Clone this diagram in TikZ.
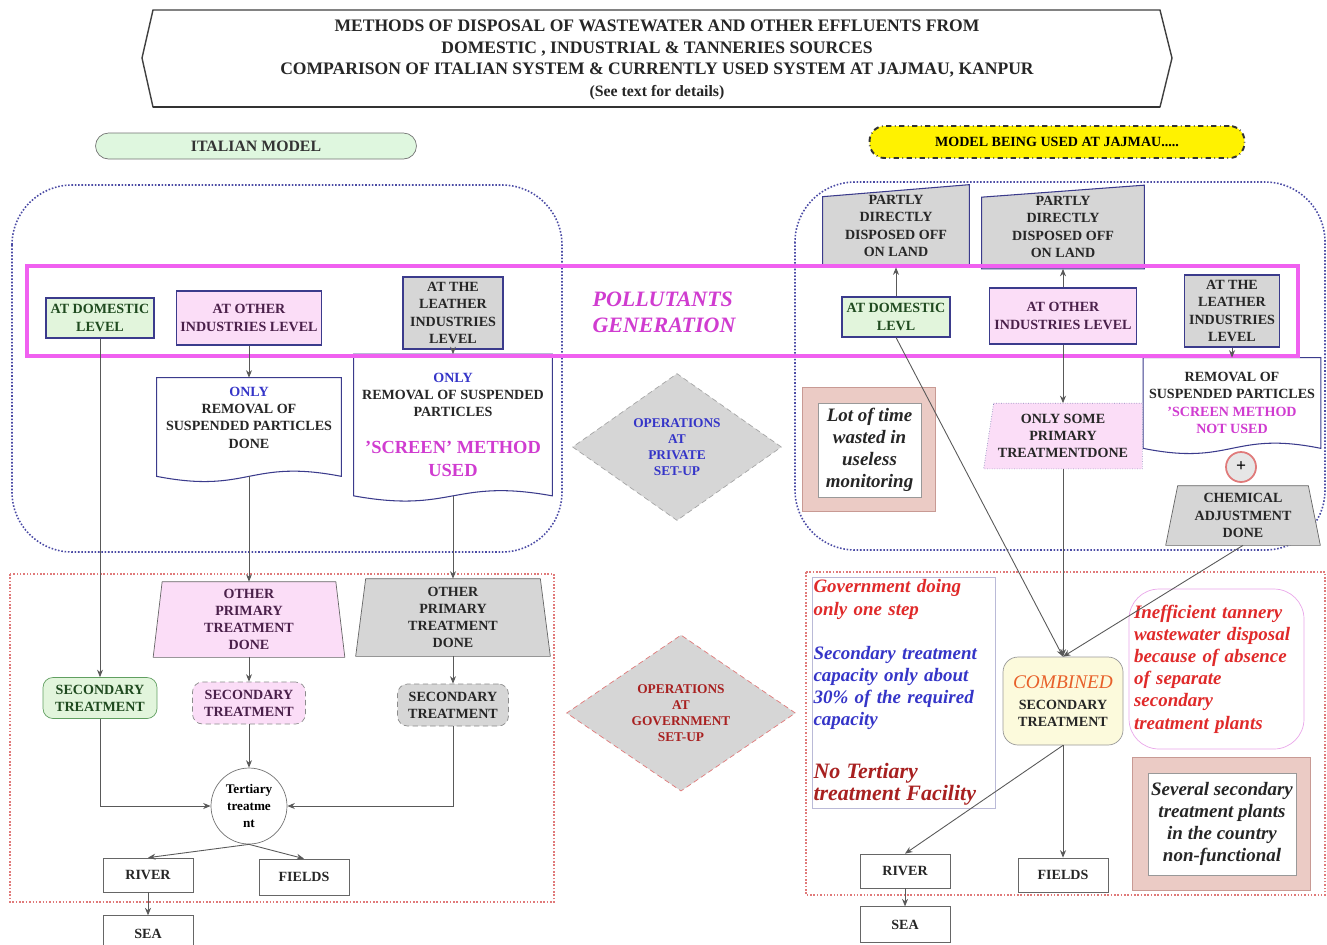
\documentclass[tikz,border=0pt]{standalone}
\usepackage{fontspec}
\setmainfont{Liberation Serif}
\usetikzlibrary{arrows.meta,positioning,calc,shapes.geometric,backgrounds}
\definecolor{navyln}{HTML}{3B3B8C}
\definecolor{greenbg}{HTML}{E2F5DC}
\definecolor{pinkbg}{HTML}{FBDDF7}
\definecolor{graybg}{HTML}{D6D6D6}
\definecolor{bandmag}{HTML}{F060F0}
\definecolor{regblue}{HTML}{4B4BA5}
\definecolor{regred}{HTML}{E07A7A}
\definecolor{txtblue}{HTML}{3535C8}
\definecolor{txtmag}{HTML}{D03CD0}
\definecolor{txtred}{HTML}{E02A2A}
\definecolor{txtdred}{HTML}{A82020}
\definecolor{txtgreen}{HTML}{1F4A1F}
\definecolor{txtpurp}{HTML}{4A204A}
\definecolor{combbg}{HTML}{FCFADC}
\definecolor{hatchbg}{HTML}{EBCBC5}
\definecolor{hatchln}{HTML}{C89A94}
\definecolor{pillgreen}{HTML}{DFF7DF}
\definecolor{orangetxt}{HTML}{E8602A}
\newcommand{\nodefont}{\fontsize{8}{9.8}\selectfont\bfseries}
\newcommand{\remfont}{\fontsize{10.8}{12.6}\selectfont\bfseries\itshape}
\newcommand{\docshape}[2]{\draw[#1] (#2.north west) -- (#2.north east) -- (#2.south east)
  .. controls ($(#2.south)+(0,-18)$) and ($(#2.south)+(0,18)$) .. (#2.south west) -- cycle;}
\newcommand{\trapshape}[3]{\draw[#1] ($(#2.north west)+(#3,0)$) -- ($(#2.north east)+(-#3,0)$) -- (#2.south east) -- (#2.south west) -- cycle;}
\newcommand{\slantshape}[2]{\draw[#1] ($(#2.north west)+(0,12)$) -- (#2.north east) -- (#2.south east) -- (#2.south west) -- cycle;}
\tikzset{
  lvlbox/.style={draw=navyln, line width=0.6pt, rectangle, align=center, font=\nodefont, text=black!85, inner sep=1pt},
  secbox/.style={draw=black!45, densely dashed, rectangle, rounded corners=2mm, align=center, font=\nodefont, text=black!85, inner sep=1pt},
  endbox/.style={draw=black!60, rectangle, align=center, font=\nodefont, text=black!85, inner sep=1pt, minimum width=18mm},
  txtnode/.style={align=center, font=\nodefont, text=black!85, inner sep=1pt},
  opdiam/.style={diamond, draw=black!35, densely dashed, fill=graybg, align=center, font=\fontsize{7.6}{9.2}\selectfont\bfseries, inner sep=0pt},
  remark/.style={align=center, font=\remfont, text=black!85, inner sep=1pt},
  hatchbox/.style={draw=hatchln, fill=hatchbg},
  region/.style={draw=regblue, densely dotted, line width=0.9pt, rounded corners=12mm},
  govregion/.style={draw=regred, densely dotted, line width=0.9pt},
  pill/.style={rectangle, rounded corners=2.6mm, align=center, inner sep=1pt},
  docline/.style={draw=navyln, line width=0.6pt, fill=white},
  arr/.style={-{Stealth[length=1.5mm, width=1.2mm]}, draw=black!65, line width=0.5pt},
}
\begin{document}
\begin{tikzpicture}[x=0.02cm, y=-0.02cm]
\path[use as bounding box] (0,0) rectangle (1327,944);
\clip (0,0) rectangle (1327,944);
\begin{scope}[on background layer]
\fill[white] (0,0) rectangle (1327,944);
\draw[region] (12,185) rectangle (562,552);
\draw[region] (795,182) rectangle (1325,550);
\draw[govregion] (10,574) rectangle (554,902);
\draw[govregion] (806,572) rectangle (1325,895);
\end{scope}

\draw[draw=black!75, line width=0.8pt, fill=white] (153,10) -- (1160,10) -- (1172,58) -- (1160,107) -- (153,107) -- (142,58) -- cycle;
\draw[black!80, line width=1.6pt] (153,107) -- (1160,107);
\node[align=center, text=black!85, font=\fontsize{10}{12.2}\selectfont\bfseries] (title) at (657,60) {METHODS OF DISPOSAL OF WASTEWATER AND OTHER EFFLUENTS FROM\\DOMESTIC , INDUSTRIAL \& TANNERIES SOURCES\\COMPARISON OF ITALIAN SYSTEM \& CURRENTLY USED SYSTEM AT JAJMAU, KANPUR\\{\fontsize{9}{11}\selectfont (See text for details)}};

\node[pill, draw=black!55, fill=pillgreen, minimum width=64.2mm, minimum height=5.2mm, font=\fontsize{9}{11}\selectfont\bfseries, text=black!80] (itlhead) at (256,146) {ITALIAN MODEL};
\node[pill, draw=black!80, dash dot, line width=1.1pt, fill=yellow, minimum width=75mm, minimum height=6.4mm, rounded corners=3mm, font=\nodefont] (jajhead) at (1057,142) {MODEL BEING USED AT JAJMAU.....};

\draw[draw=bandmag, line width=2.2pt] (27,266) rectangle (1298,356);
\node[txtnode, text=txtmag, font=\fontsize{12.5}{14.6}\selectfont\bfseries\itshape, align=left] (polgen) at (664,312) {POLLUTANTS\\GENERATION};

\node[lvlbox, fill=greenbg, text=txtgreen, minimum width=21.6mm, minimum height=8mm] (ldom) at (100,318) {AT DOMESTIC\\LEVEL};
\node[lvlbox, fill=pinkbg, text=txtpurp, minimum width=29mm, minimum height=10.8mm] (loth) at (249,318) {AT OTHER\\INDUSTRIES LEVEL};
\node[lvlbox, fill=graybg, minimum width=20mm, minimum height=14.4mm, inner sep=0pt] (llea) at (453,313) {AT THE\\LEATHER\\INDUSTRIES\\LEVEL};
\node[txtnode, minimum width=36.8mm, minimum height=19.6mm] (lrem) at (249,427) {{\color{txtblue}ONLY}\\REMOVAL OF\\SUSPENDED PARTICLES\\DONE\\[1pt]\mbox{}};
\node[txtnode, minimum width=39.6mm, minimum height=28.2mm] (lscr) at (453,425) {{\color{txtblue}ONLY}\\REMOVAL OF SUSPENDED\\PARTICLES\\[11pt]{\color{txtmag}\fontsize{10.5}{12}\selectfont 'SCREEN' METHOD}\\[3.5pt]{\color{txtmag}\fontsize{10.5}{12}\selectfont USED}};
\node[txtnode, text=txtpurp, minimum width=38.2mm, minimum height=15mm] (ltrp) at (249,619.5) {OTHER\\PRIMARY\\TREATMENT\\DONE};
\node[txtnode, minimum width=38.8mm, minimum height=15.4mm] (ltrg) at (453,617.5) {OTHER\\PRIMARY\\TREATMENT\\DONE};
\node[secbox, solid, draw=green!25!gray, fill=greenbg, text=txtgreen, minimum width=22.8mm, minimum height=8.2mm] (lsecg) at (100,698) {SECONDARY\\TREATMENT};
\node[secbox, fill=pinkbg, text=txtpurp, minimum width=22.6mm, minimum height=8.4mm] (lsecp) at (249,703) {SECONDARY\\TREATMENT};
\node[secbox, fill=graybg, minimum width=22.2mm, minimum height=8.4mm] (lsecy) at (453,705) {SECONDARY\\TREATMENT};
\node[circle, draw=black!55, fill=white, minimum size=15.2mm, inner sep=0pt, align=center, font=\fontsize{7.5}{9.6}\selectfont\bfseries] (ter) at (249,806) {Tertiary\\treatme\\nt};
\node[endbox, minimum height=6.8mm] (lriv) at (148,875) {RIVER};
\node[endbox, minimum height=7.2mm] (lfld) at (304,877) {FIELDS};
\node[endbox, minimum height=7.2mm, below=4.6mm of lriv] (lsea) {SEA};

\node[opdiam, text=txtblue, minimum width=41.8mm, minimum height=29.4mm] (oppriv) at (677,447) {OPERATIONS\\AT\\PRIVATE\\SET-UP};
\node[opdiam, draw=regred, text=txtdred, minimum width=45.8mm, minimum height=31mm] (opgov) at (681,713) {OPERATIONS\\AT\\GOVERNMENT\\SET-UP};

\node[txtnode, minimum width=29.2mm, minimum height=16.4mm] (rpar1) at (896,226) {PARTLY\\DIRECTLY\\DISPOSED OFF\\ON LAND};
\node[txtnode, minimum width=32.4mm, minimum height=16.6mm] (rpar2) at (1063,227) {PARTLY\\DIRECTLY\\DISPOSED OFF\\ON LAND};
\node[lvlbox, fill=greenbg, text=txtgreen, minimum width=21.6mm, minimum height=8mm] (rdom) at (896,317) {AT DOMESTIC\\LEVL};
\node[lvlbox, fill=pinkbg, text=txtpurp, minimum width=29.4mm, minimum height=11.2mm] (roth) at (1063,316) {AT OTHER\\INDUSTRIES LEVEL};
\node[lvlbox, fill=graybg, minimum width=19mm, minimum height=14.4mm, inner sep=0pt] (rlea) at (1232,311) {AT THE\\LEATHER\\INDUSTRIES\\LEVEL};
\node[txtnode, minimum width=35.4mm, minimum height=18mm] (rscr) at (1232,403) {REMOVAL OF\\SUSPENDED PARTICLES\\{\color{txtmag}'SCREEN METHOD}\\{\color{txtmag}NOT USED}};
\node[circle, draw=regred, line width=1pt, fill=graybg!60, minimum size=6mm, inner sep=0pt, font=\bfseries] (rplus) at (1241,467) {+};
\node[txtnode, minimum width=30.8mm, minimum height=11.8mm] (rchem) at (1243,515.5) {CHEMICAL\\ADJUSTMENT\\DONE};
\node[txtnode, minimum width=31.6mm, minimum height=13mm] (rsome) at (1063,436) {ONLY SOME\\PRIMARY\\TREATMENTDONE};
\node[remark, draw=black!40, fill=white, minimum width=20.6mm, minimum height=18.8mm] (rtime) at (869.5,450) {Lot of time\\wasted in\\useless\\monitoring};
\node[draw=navyln!35, line width=0.5pt, align=left, font=\remfont, inner xsep=0.3mm, inner ysep=1pt, text width=36mm, minimum height=46.2mm] (rgov) at (903.5,692.5) {{\color{txtred}Government doing\\only one step}\\[12.6pt]{\color{txtblue}Secondary treatment\\capacity only about\\30\% of the required\\capacity}\\[16pt]{\color{txtdred}\fontsize{12.5}{14}\selectfont No Tertiary\\treatment Facility}};
\node[secbox, solid, draw=black!40, fill=combbg, rounded corners=3mm, minimum width=24mm, minimum height=17.6mm] (rcomb) at (1063,701) {{\color{orangetxt}\fontsize{11}{13}\selectfont\mdseries\itshape COMBINED}\\[2pt]SECONDARY\\TREATMENT};
\node[draw=txtmag!45, rounded corners=6mm, align=left, font=\remfont, text=txtred, text width=33mm, inner xsep=1mm, minimum height=32mm] (rineff) at (1216.5,669) {Inefficient tannery\\wastewater disposal\\because of absence\\of separate\\secondary\\treatment plants};
\node[remark, draw=black!40, fill=white, minimum width=29.6mm, minimum height=20.4mm] (rsev) at (1222,824) {Several secondary\\treatment plants\\in the country\\non-functional};
\node[endbox, minimum height=6.8mm] (rriv) at (905,871) {RIVER};
\node[endbox, minimum height=6.8mm] (rfld) at (1063,875) {FIELDS};
\node[endbox, minimum height=7.2mm, below=3.6mm of rriv] (rsea) {SEA};

\begin{scope}[on background layer]
\docshape{docline}{lrem}
\docshape{docline}{lscr}
\docshape{docline}{rscr}
\trapshape{draw=black!60, fill=pinkbg}{ltrp}{9}
\trapshape{draw=black!60, fill=graybg}{ltrg}{10}
\trapshape{draw=black!60, fill=graybg}{rchem}{12}
\slantshape{draw=navyln, line width=0.6pt, fill=graybg}{rpar1}
\slantshape{draw=navyln, line width=0.6pt, fill=graybg}{rpar2}
\draw[draw=navyln!60, densely dotted, fill=pinkbg] ($(rsome.north west)+(10,0)$) -- (rsome.north east) -- (rsome.south east) -- (rsome.south west) -- cycle;
\draw[hatchbox] ($(rtime.north west)+(-15,-15)$) rectangle ($(rtime.south east)+(14,14)$);
\draw[hatchbox] ($(rsev.north west)+(-15,-15)$) rectangle ($(rsev.south east)+(14,15)$);
\end{scope}

\draw[arr] (ldom) -- (lsecg);
\draw[arr] (lsecg) |- (ter);
\draw[arr] (loth) -- (lrem);
\draw[arr] (lrem) -- (ltrp);
\draw[arr] (ltrp) -- (lsecp);
\draw[arr] (lsecp) -- (ter);
\draw[arr] (llea) -- (lscr);
\draw[arr] (lscr) -- (ltrg);
\draw[arr] (ltrg) -- (lsecy);
\draw[arr] (lsecy) |- (ter);
\draw[arr] (ter.south) -- (lriv.north);
\draw[arr] (ter.south) -- (lfld.north);
\draw[arr] (lriv) -- (lsea);
\draw[arr] (rdom) -- (rpar1);
\draw[arr] (roth) -- (rpar2);
\draw[arr] (rdom.south) -- (rcomb.north);
\draw[arr] (roth) -- (rsome);
\draw[arr] (rsome) -- (rcomb);
\draw[arr] (rlea) -- (rscr);
\draw[arr] (rchem.south) -- (rcomb.north);
\draw[arr] (rcomb.south) -- (rriv.north);
\draw[arr] (rcomb) -- (rfld);
\draw[arr] (rriv) -- (rsea);
\end{tikzpicture}
\end{document}
